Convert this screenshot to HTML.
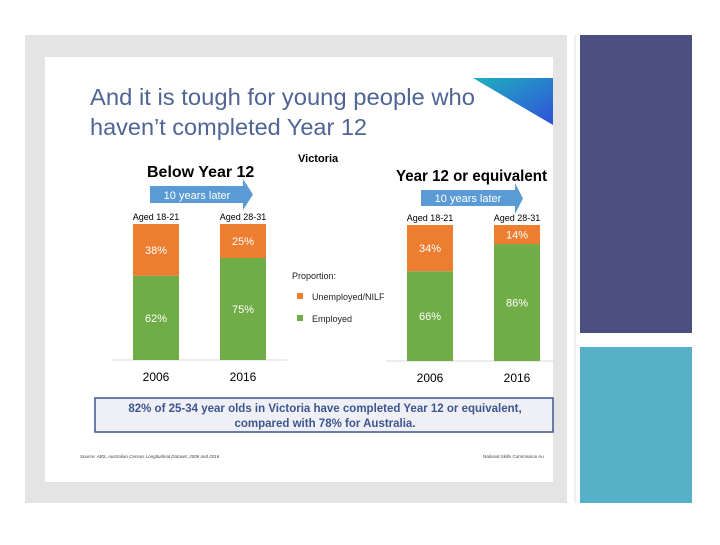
<!DOCTYPE html>
<html><head><meta charset="utf-8"><style>
body{margin:0;width:720px;height:540px;background:#fff;overflow:hidden;font-family:"Liberation Sans",sans-serif}
svg text{font-family:"Liberation Sans",sans-serif}
</style></head><body>
<svg id="s" width="720" height="540" viewBox="0 0 720 540">
<defs><linearGradient id="tg" x1="0" y1="0" x2="1" y2="1"><stop offset="0" stop-color="#1fb0c0"/><stop offset="1" stop-color="#3050d8"/></linearGradient></defs>
<rect x="25" y="35" width="542" height="468" fill="#e4e4e4"/>
<rect x="45" y="57" width="508" height="425" fill="#fff"/>
<line x1="575" y1="35" x2="575" y2="503" stroke="#ddd" stroke-width="1"/>
<rect x="580" y="35" width="112" height="298" fill="#4b5080"/>
<rect x="580" y="347" width="112" height="156" fill="#55b0c8"/>
<polygon points="473,78 553,78 553,125" fill="url(#tg)"/>
<text x="90" y="105" font-size="23" fill="#4f6595" textLength="385" lengthAdjust="spacingAndGlyphs">And it is tough for young people who</text>
<text x="90" y="135" font-size="23" fill="#4f6595" textLength="277" lengthAdjust="spacingAndGlyphs">haven’t completed Year 12</text>
<text x="298" y="162" font-size="11" font-weight="bold" fill="#000">Victoria</text>
<text x="147" y="177" font-size="16" font-weight="bold" fill="#000">Below Year 12</text>
<text x="396" y="181" font-size="16" font-weight="bold" fill="#000" textLength="151" lengthAdjust="spacingAndGlyphs">Year 12 or equivalent</text>
<polygon points="150,186 243,186 243,179 253,194.5 243,210 243,203 150,203" fill="#5b9bd5"/>
<text x="197" y="199" font-size="11" fill="#fff" text-anchor="middle">10 years later</text>
<polygon points="421,190 515,190 515,183 523,198.5 515,214 515,206 421,206" fill="#5b9bd5"/>
<text x="468" y="202" font-size="11" fill="#fff" text-anchor="middle">10 years later</text>
<text x="292" y="279" font-size="9" fill="#222">Proportion:</text>
<rect x="297" y="293" width="6" height="6" fill="#ed7d31"/>
<text x="312" y="300" font-size="9" fill="#222">Unemployed/NILF</text>
<rect x="297" y="315" width="6" height="6" fill="#70ad47"/>
<text x="312" y="322" font-size="9" fill="#222">Employed</text>
<g id="bars"></g>
<rect x="95" y="398" width="458" height="34" fill="#eef0f6" stroke="#3f5590" stroke-width="1.5"/>
<text x="325" y="412" font-size="11.5" font-weight="bold" fill="#3f5590" text-anchor="middle">82% of 25-34 year olds in Victoria have completed Year 12 or equivalent,</text>
<text x="325" y="427" font-size="11.5" font-weight="bold" fill="#3f5590" text-anchor="middle">compared with 78% for Australia.</text>
<text x="80" y="458" font-size="4.5" font-style="italic" fill="#444">Source: ABS, Australian Census Longitudinal Dataset, 2006 and 2016</text>
<text x="483" y="458" font-size="4.5" fill="#444">National Skills Commission Au</text>
</svg>
<script>
const panels=["Below Year 12","Year 12 or equivalent"];
const years=["2006","2016"];
const ages=["Aged 18-21","Aged 28-31"];
const employed=[[62,75],[66,86]];
const unemployed=[[38,25],[34,14]];
const NS="http://www.w3.org/2000/svg";
const g=document.getElementById("bars");
const panelX=[[133,220],[407,494]], baseY=[360,361], axisX=[[112,287],[386,553]];
const barW=46, plotH=136;
function y(v,p){return baseY[p]-v/100*plotH;}
function el(t,a,txt){const e=document.createElementNS(NS,t);for(const k in a)e.setAttribute(k,a[k]);if(txt!=null)e.textContent=txt;g.appendChild(e);return e;}
panels.forEach((pn,p)=>{
  const ax=el("line",{x1:axisX[p][0],x2:axisX[p][1],y1:baseY[p],y2:baseY[p],stroke:"#d9d9d9"});
  
  
  years.forEach((yr,i)=>{
    const x=panelX[p][i], e=employed[p][i], u=unemployed[p][i];
    const r1=el("rect",{x:x,y:y(e,p),width:barW,height:baseY[p]-y(e,p),fill:"#70ad47"});
    
    
    const r2=el("rect",{x:x,y:y(e+u,p),width:barW,height:y(e,p)-y(e+u,p),fill:"#ed7d31"});
    
    
    const t1=el("text",{x:x+barW/2,y:(y(e,p)+baseY[p])/2+4,"font-size":11,fill:"#fff","text-anchor":"middle"},e+"%");
    
    
    const t2=el("text",{x:x+barW/2,y:(y(e+u,p)+y(e,p))/2+4,"font-size":11,fill:"#fff","text-anchor":"middle"},u+"%");
    
    
    const ta=el("text",{x:x+barW/2,y:y(100,p)-4,"font-size":9,fill:"#000","text-anchor":"middle"},ages[i]);
    
    
    const ty=el("text",{x:x+barW/2,y:baseY[p]+21,"font-size":12,fill:"#000","text-anchor":"middle"},yr);
    
    
  });
});
</script>
</body></html>
